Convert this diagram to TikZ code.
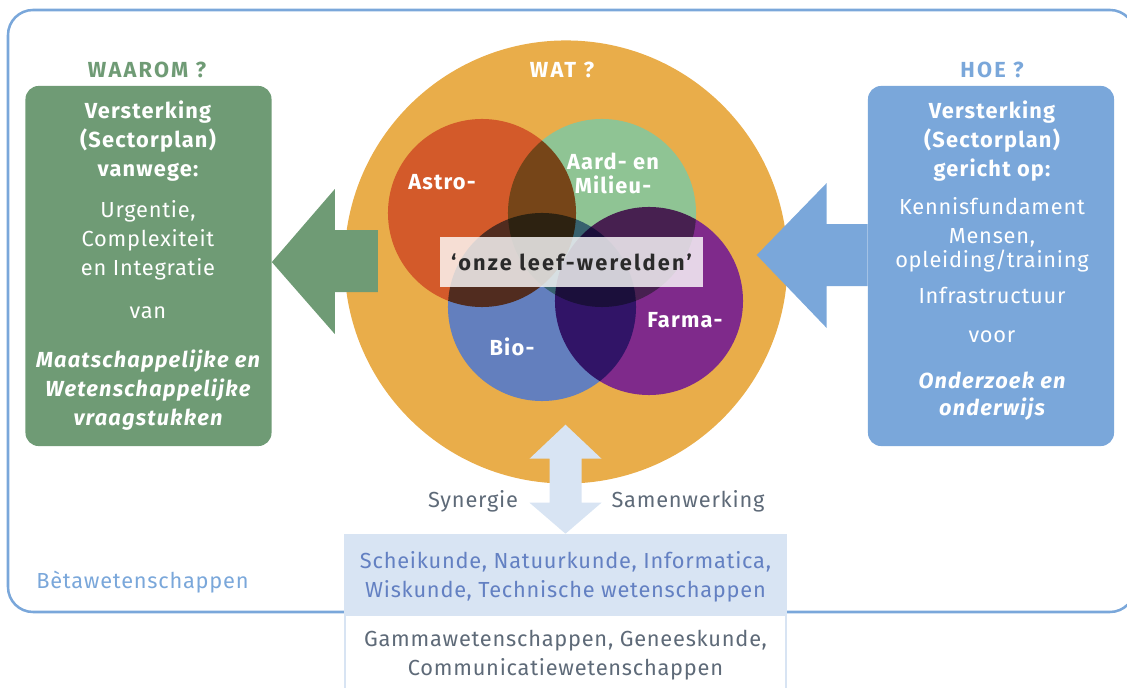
\documentclass[tikz,border=0pt]{standalone}
\usepackage{fontspec}
\setmainfont{Fira Sans}[LetterSpace=3.5]
\newfontfamily\boldfont{Fira Sans}[LetterSpace=5.5]
\newfontfamily\headfont{Fira Sans}[LetterSpace=10.0]

\definecolor{frameblue}{HTML}{7AA7DA}
\definecolor{whygreen}{HTML}{6F9B75}
\definecolor{watorange}{HTML}{E9AD4A}
\definecolor{astrored}{HTML}{D35A2A}
\definecolor{aardgreen}{HTML}{8FC494}
\definecolor{bioblue}{HTML}{637FBE}
\definecolor{farmapurple}{HTML}{7F2A8B}
\definecolor{paleblue}{HTML}{D8E4F3}
\definecolor{betatext}{HTML}{6380C2}
\definecolor{greytext}{HTML}{5E6A78}
\definecolor{darktext}{HTML}{2A2A2A}

\tikzset{
    lbl/.style={inner sep=0pt, text depth=0pt, align=center,
        font=\fontsize{15.5}{20.6}\selectfont},
    bold/.style={lbl, font=\fontsize{15.5}{20.6}\boldfont\bfseries},
    bolditalic/.style={lbl, font=\fontsize{15.5}{20.6}\boldfont\bfseries\itshape},
    head/.style={lbl, font=\fontsize{15.5}{20.6}\headfont\bfseries},
    bigbox/.style={inner sep=0pt, rounded corners=0.33cm,
        minimum width=6.15cm, minimum height=9cm},
    ring/.style={circle, inner sep=0pt, minimum size=4.7cm}
}

\begin{document}
\begin{tikzpicture}[x=0.025cm, y=-0.025cm]
    \useasboundingbox (0, 0) rectangle (1127, 688);
    \draw[frameblue, line width=1.8pt, rounded corners=0.625cm]
	(8, 10) rectangle (1135, 612);
    \node[lbl, text=frameblue, anchor=west] (beta) at (36, 580) {Bètawetenschappen};

    % onderaan
    \node[lbl, fill=white, draw=paleblue, line width=1.5pt, text=greytext,
	minimum width=11.025cm, minimum height=1.9cm] (rest) at (565.5, 653)
	{Gammawetenschappen, Geneeskunde,\\Communicatiewetenschappen};
    \node[lbl, fill=paleblue, text=betatext,
	minimum width=11.075cm, minimum height=2.025cm] (sci) at (565.5, 574.5)
	{Scheikunde, Natuurkunde, Informatica,\\Wiskunde, Technische wetenschappen};

    % WAT?
    \node[circle, fill=watorange, inner sep=0pt, minimum size=11.075cm] (wat) at (566, 262) {};
    \node[head, text=white] (watq) at (562, 70) {WAT ?};
    \begin{scope}[blend group=multiply]
	\node[ring, fill=astrored] (astro) at (482, 213) {};
	\node[ring, fill=aardgreen] (aard) at (602, 213) {};
	\node[ring, fill=bioblue] (bio) at (542, 307) {};
	\node[ring, fill=farmapurple] (farma) at (649, 301) {};
    \end{scope}
    \node[bold, text=white] (astrol) at (442, 182) {Astro-};
    \node[bold, text=white, font=\fontsize{15.5}{17}\boldfont\bfseries] (aardl) at (613, 173) {Aard- en\\Milieu-};
    \node[bold, text=white] (biol) at (512, 347) {Bio-};
    \node[bold, text=white] (farmal) at (685, 320) {Farma-};
    \node[bold, fill=white, fill opacity=0.8, text opacity=1, text=darktext,
	font=\fontsize{15.5}{20.6}\headfont\bfseries,
	minimum width=6.575cm, minimum height=1.25cm] (leef) at (571.5, 262) {‘onze leef-werelden’};

    % WAAROM?
    \node[bigbox, fill=whygreen] (why) at (148.5, 266) {};
    \node[head, text=whygreen] (whyq) at (147, 70) {WAAROM ?};
    \node[bold, text=white] (whytitle) at (148, 139) {Versterking\\(Sectorplan)\\vanwege:};
    \node[lbl, text=white] (whyreason) at (148, 238) {Urgentie,\\Complexiteit\\en Integratie};
    \node[lbl, text=white] (whyvan) at (148, 313) {van};
    \node[bolditalic, text=white] (whywhat) at (148, 388) {Maatschappelijke en\\Wetenschappelijke\\vraagstukken};
    \fill[whygreen] ([yshift=2.8pt]why.east) -- ++(63, -73) -- ++(0, 41) -- ++(43, 0)
	-- ++(0, 62) -- ++(-43, 0) -- ++(0, 42) -- cycle;

    % HOE?
    \node[bigbox, fill=frameblue] (how) at (991, 266) {};
    \node[head, text=frameblue] (howq) at (992, 70) {HOE ?};
    \node[bold, text=white] (howtitle) at (992, 139) {Versterking\\(Sectorplan)\\gericht op:};
    \node[lbl, text=white] (howbase) at (992, 206) {Kennisfundament};
    \node[lbl, text=white, font=\fontsize{15.5}{17}\selectfont] (howpeople) at (992, 248) {Mensen,\\opleiding/training};
    \node[lbl, text=white] (howinfra) at (992, 295) {Infrastructuur};
    \node[lbl, text=white] (howvoor) at (992, 337) {voor};
    \node[bolditalic, text=white, font=\fontsize{15.5}{19.2}\boldfont\bfseries\itshape] (howwhat) at (992, 393.5) {Onderzoek en\\onderwijs};
    \fill[frameblue] ([yshift=7.8pt]how.west) -- ++(0, -31) -- ++(-41, 0) -- ++(0, -41)
	-- ++(-70, 72) -- ++(70, 73) -- ++(0, -42) -- ++(41, 0) -- cycle;

    % synergie
    \fill[paleblue] (sci.north) -- ++(-36, -31) -- ++(20, 0) -- ++(0, -44) -- ++(-20, 0)
	-- ++(36, -34) -- ++(36, 34) -- ++(-20, 0) -- ++(0, 44) -- ++(20, 0) -- cycle;
    \node[lbl, text=greytext] (syn) at (473, 499) {Synergie};
    \node[lbl, text=greytext] (samen) at (688, 499) {Samenwerking};
\end{tikzpicture}
\end{document}
